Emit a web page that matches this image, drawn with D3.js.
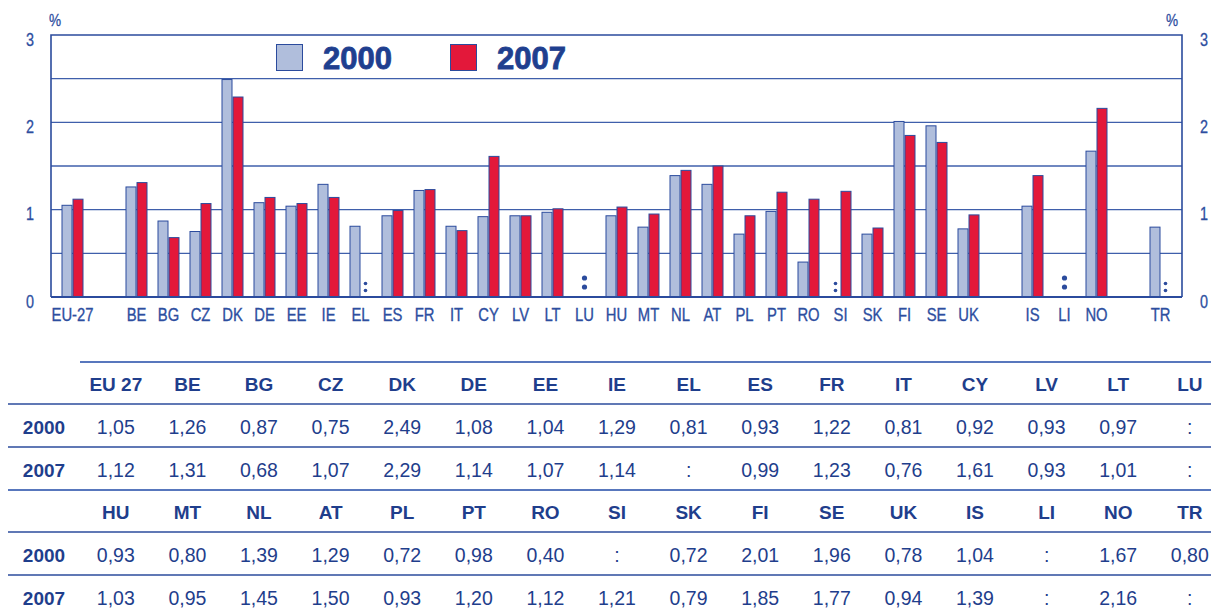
<!DOCTYPE html>
<html><head><meta charset="utf-8">
<script src="https://cdnjs.cloudflare.com/ajax/libs/d3/7.8.5/d3.min.js"></script>
<style>
body{margin:0;background:#fff;}
svg{display:block;}
</style></head>
<body>
<svg id="chart" width="1211" height="610"></svg>
<script>
// ---- data ----
const categories = ["EU-27","BE","BG","CZ","DK","DE","EE","IE","EL","ES","FR","IT","CY","LV","LT","LU","HU","MT","NL","AT","PL","PT","RO","SI","SK","FI","SE","UK","IS","LI","NO","TR"];
const tableLabels = ["EU 27","BE","BG","CZ","DK","DE","EE","IE","EL","ES","FR","IT","CY","LV","LT","LU","HU","MT","NL","AT","PL","PT","RO","SI","SK","FI","SE","UK","IS","LI","NO","TR"];
const values2000 = [1.05,1.26,0.87,0.75,2.49,1.08,1.04,1.29,0.81,0.93,1.22,0.81,0.92,0.93,0.97,null,0.93,0.80,1.39,1.29,0.72,0.98,0.40,null,0.72,2.01,1.96,0.78,1.04,null,1.67,0.80];
const values2007 = [1.12,1.31,0.68,1.07,2.29,1.14,1.07,1.14,null,0.99,1.23,0.76,1.61,0.93,1.01,null,1.03,0.95,1.45,1.50,0.93,1.20,1.12,1.21,0.79,1.85,1.77,0.94,1.39,null,2.16,null];
const slots = ["EU-27","_g1","BE","BG","CZ","DK","DE","EE","IE","EL","ES","FR","IT","CY","LV","LT","LU","HU","MT","NL","AT","PL","PT","RO","SI","SK","FI","SE","UK","_g2","IS","LI","NO","_g3","TR"];
const yTicks = [0,1,2,3];
const gridVals = [0.5,1,1.5,2,2.5];
const seriesNames = ["2000","2007"];

const BLUE = "#2b4b9d", TXT = "#2d4e9f", TBL = "#1f3e8c";
const GRAY = "#b0bedc", RED = "#e3183a";
const NARROW = "'Liberation Sans',Arial,sans-serif";

const svg = d3.select("#chart");
const x = d3.scaleBand().domain(slots).range([56.5, 1176.5]);
const y = d3.scaleLinear().domain([0,3]).range([297, 35]);
const L = 51, R = 1182;

// gridlines
svg.append("g").selectAll("line").data(gridVals).join("line")
  .attr("x1", L).attr("x2", R).attr("y1", d=>y(d)).attr("y2", d=>y(d))
  .attr("stroke", "#3f5fab").attr("stroke-width", 1.3);

// frame
svg.append("path").attr("d", `M${L},${y(0)}V${y(3)}H${R}V${y(0)}`)
  .attr("fill","none").attr("stroke", BLUE).attr("stroke-width",1.6);

const data = categories.map((c,i)=>({c, a: values2000[i], b: values2007[i]}));
const cx = d => x(d.c) + x.bandwidth()/2;

// bars
const g = svg.append("g");
g.selectAll("rect.a").data(data.filter(d=>d.a!=null)).join("rect")
  .attr("x", d=>cx(d)-10.5).attr("width",10)
  .attr("y", d=>y(d.a)).attr("height", d=>y(0)-y(d.a))
  .attr("fill", GRAY).attr("stroke", BLUE).attr("stroke-width",1);
g.selectAll("rect.b").data(data.filter(d=>d.b!=null)).join("rect")
  .attr("x", d=>cx(d)+0.5).attr("width",10)
  .attr("y", d=>y(d.b)).attr("height", d=>y(0)-y(d.b))
  .attr("fill", RED).attr("stroke", BLUE).attr("stroke-width",1);

// baseline redraw
svg.append("line").attr("x1",L).attr("x2",R).attr("y1",y(0)).attr("y2",y(0))
  .attr("stroke",BLUE).attr("stroke-width",1.8);

// missing markers
const miss = [];
data.forEach(d=>{
  if(d.a==null && d.b==null) miss.push({x: cx(d), big:true});
  else if(d.a==null) miss.push({x: cx(d)-5, big:false});
  else if(d.b==null) miss.push({x: cx(d)+5, big:false});
});
miss.forEach(m=>{
  const r = m.big?2.6:1.8;
  const ys = m.big?[278,287]:[283.5,290.5];
  ys.forEach(yy=>svg.append("circle").attr("cx",m.x).attr("cy",yy).attr("r",r).attr("fill",BLUE));
});

// x labels (condensed look)
svg.append("g").selectAll("text").data(categories).join("text")
  .attr("transform", d=>`translate(${x(d)+x.bandwidth()/2},320.5) scale(0.8,1)`)
  .attr("text-anchor","middle")
  .attr("font-family",NARROW)
  .attr("font-size",18.5).attr("fill",TXT).attr("stroke",TXT).attr("stroke-width",0.35).text(d=>d);

// y labels
const yl = svg.append("g").attr("font-family",NARROW).attr("font-size",18).attr("fill",TXT)
  .attr("stroke",TXT).attr("stroke-width",0.3);
yl.selectAll("text.l").data(yTicks).join("text").attr("class","l")
  .attr("transform",d=>`translate(30,${y(d)+10.5}) scale(0.8,1)`).attr("text-anchor","middle").text(d=>d);
yl.selectAll("text.r").data(yTicks).join("text").attr("class","r")
  .attr("transform",d=>`translate(1204,${y(d)+10.5}) scale(0.8,1)`).attr("text-anchor","middle").text(d=>d);
yl.append("text").attr("transform","translate(55,26) scale(0.8,1)").attr("text-anchor","middle").attr("font-size",17).text("%");
yl.append("text").attr("transform","translate(1172,26) scale(0.8,1)").attr("text-anchor","middle").attr("font-size",17).text("%");

// legend
const legX = [276, 450], legC = [GRAY, RED];
seriesNames.forEach((s,i)=>{
  svg.append("rect").attr("x",legX[i]+0.5).attr("y",44.5).attr("width",26).attr("height",26)
    .attr("fill",legC[i]).attr("stroke",BLUE).attr("stroke-width",1);
  svg.append("text").attr("x",legX[i]+47).attr("y",69)
    .attr("font-family","'Liberation Sans',Arial,sans-serif").attr("font-weight","bold")
    .attr("font-size",31).attr("fill","#1f3f8f").attr("stroke","#1f3f8f").attr("stroke-width",0.8).text(s);
});

// table
const cols = d3.range(16);
const tx = d3.scaleBand().domain(cols).range([80, 80+16*71.6]);
const tcx = k => tx(k)+tx.bandwidth()/2;
const fmt = v => v==null ? ":" : v.toFixed(2).replace(".",",");
const tfont = "'Liberation Sans',Arial,sans-serif";
const blocks = [0,1];
blocks.forEach(bi=>{
  const top = 362 + bi*128;
  svg.append("line").attr("x1", bi===0?80:8).attr("x2",1211).attr("y1",top).attr("y2",top)
    .attr("stroke","#5877bd").attr("stroke-width",2);
  [top+42, top+85].forEach(yy=>svg.append("line").attr("x1",8).attr("x2",1211).attr("y1",yy).attr("y2",yy)
    .attr("stroke",BLUE).attr("stroke-width",1.5));
  const idx = cols.map(k=>bi*16+k);
  svg.append("g").selectAll("text").data(idx).join("text")
    .attr("x",(d,k)=>tcx(k)).attr("y",top+29).attr("text-anchor","middle")
    .attr("font-family",tfont).attr("font-weight","bold").attr("font-size",19).attr("fill",TBL)
    .text(d=>tableLabels[d]);
  [[values2000,"2000"],[values2007,"2007"]].forEach(([vals,name],ri)=>{
    const yy = top + 72 + ri*43;
    svg.append("text").attr("x",44).attr("y",yy).attr("text-anchor","middle")
      .attr("font-family",tfont).attr("font-weight","bold").attr("font-size",19).attr("fill",TBL).text(name);
    svg.append("g").selectAll("text").data(idx).join("text")
      .attr("x",(d,k)=>tcx(k)).attr("y",yy).attr("text-anchor","middle")
      .attr("font-family",tfont).attr("font-size",19.5).attr("fill",TBL)
      .text(d=>fmt(vals[d]));
  });
});
</script>
</body></html>
